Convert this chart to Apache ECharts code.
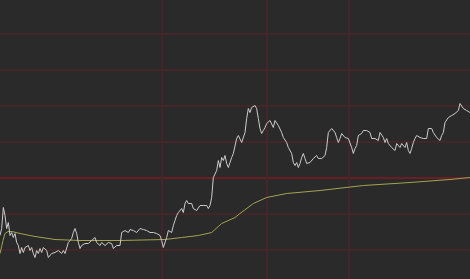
<!DOCTYPE html>
<html>
<head>
<meta charset="utf-8">
<script src="https://cdn.jsdelivr.net/npm/echarts@6/dist/echarts.min.js"></script>
<style>
html,body{margin:0;padding:0;background:#2a2a2a;}
#chart{width:470px;height:279px;}
</style>
</head>
<body>
<div id="chart"></div>
<script>
// Price move (relative units, 36 units per grid band; 0 = previous close)
const priceValues = [
  -58,-51,-30,-38,-51,-45,-58,-55,-60,-56,
  -65,-68,-76,-70,-75,-70,-71,-68,-73,-70,
  -76,-80,-73,-76,-71,-75,-70,-71,-73,-80,
  -78,-76,-78,-75,-76,-73,-75,-76,-73,-76,
  -75,-65,-63,-61,-55,-51,-56,-65,-71,-68,
  -70,-66,-68,-66,-65,-63,-61,-60,-65,-66,
  -68,-65,-63,-68,-70,-65,-66,-66,-71,-70,
  -68,-70,-68,
  -55,-54,-53,-54,-55,-52,-50,-53,-51,-55,
  -53,-51,-53,-52,-52,-53,-51,-55,-53,-55,
  -53,-56,-55,-58,-63,-70,-68,-60,-53,-51,
  -55,-48,-43,-38,-35,-33,-31,-35,-26,-23,
  -26,-28,-26,-31,-30,-33,-31,-28,-26,-28,
  -26,-28,-31,-28,-20,0,2,7,17,10,
  20,17,22,14,10,15,20,24,25,
  39,42,40,35,34,45,59,69,65,70,
  69,72,69,59,49,44,47,50,54,55,
  57,55,50,57,55,52,54,45,40,42,
  35,30,29,24,15,12,15,10,14,20,
  24,19,14,12,15,17,19,19,22,19,
  19,19,19,22,30,45,47,49,50,45,
  40,35,39,44,44,40,42,39,
  40,30,24,29,32,42,40,44,47,49,
  47,49,45,39,40,39,40,37,45,47,
  40,35,39,34,32,30,29,27,34,32,
  30,34,32,30,35,27,24,29,35,39,
  42,44,40,39,39,40,39,49,50,49,
  45,44,40,39,37,42,45,55,57,60,
  62,62,64,64,65,67,74,72,69,69,
  67,67,65
];
// Average price line, sampled at time indices
const avgTimes  = [0, 1.8, 3, 4.8, 7.2, 12, 21, 33, 48, 72, 99, 109, 119, 127, 133, 141, 144, 152, 160, 172, 192, 218, 246, 270, 282];
const avgValues = [-76, -63, -56, -54, -54, -56, -59, -62, -63, -63, -62, -60, -58, -55, -46, -40, -36, -26, -20, -16, -13, -8, -5, -2, 0];
// Price grid levels and session time ticks
const priceLevels = [-72, -36, 36, 72, 108, 144];
const timeTicks = [97, 160, 209];
const previousClose = 0;

const priceData = priceValues.map((v, i) => [i, v]);
const avgData = avgTimes.map((t, i) => [t, avgValues[i]]);

const gridColor = '#43262a';
const chart = echarts.init(document.getElementById('chart'), null, {renderer: 'canvas'});
chart.setOption({
  backgroundColor: '#2a2a2a',
  animation: false,
  grid: {left: 0, right: 0, top: 0, bottom: 0, containLabel: false},
  xAxis: {
    type: 'value', min: 0, max: priceValues.length - 1,
    axisLine: {show: false}, axisTick: {show: false}, axisLabel: {show: false},
    splitLine: {show: false}
  },
  yAxis: {
    type: 'value', min: -101.5, max: 177.5,
    axisLine: {show: false}, axisTick: {show: false}, axisLabel: {show: false},
    splitLine: {show: false}
  },
  series: [
    {
      type: 'line', data: avgData, symbol: 'none',
      lineStyle: {color: '#a3a350', width: 1}, z: 3
    },
    {
      type: 'line', data: priceData, symbol: 'none',
      lineStyle: {color: '#cccccc', width: 1}, z: 4,
      markLine: {
        silent: true, symbol: ['none', 'none'], label: {show: false}, z: 1,
        data: [
          {yAxis: previousClose, lineStyle: {color: '#6a1d25', width: 2, type: 'solid'}}
        ]
        .concat(priceLevels.map(v => ({yAxis: v, lineStyle: {color: gridColor, width: 2, type: 'solid'}})))
        .concat(timeTicks.map(t => ({xAxis: t, lineStyle: {color: gridColor, width: 2, type: 'solid'}})))
      }
    }
  ]
});
</script>
</body>
</html>
